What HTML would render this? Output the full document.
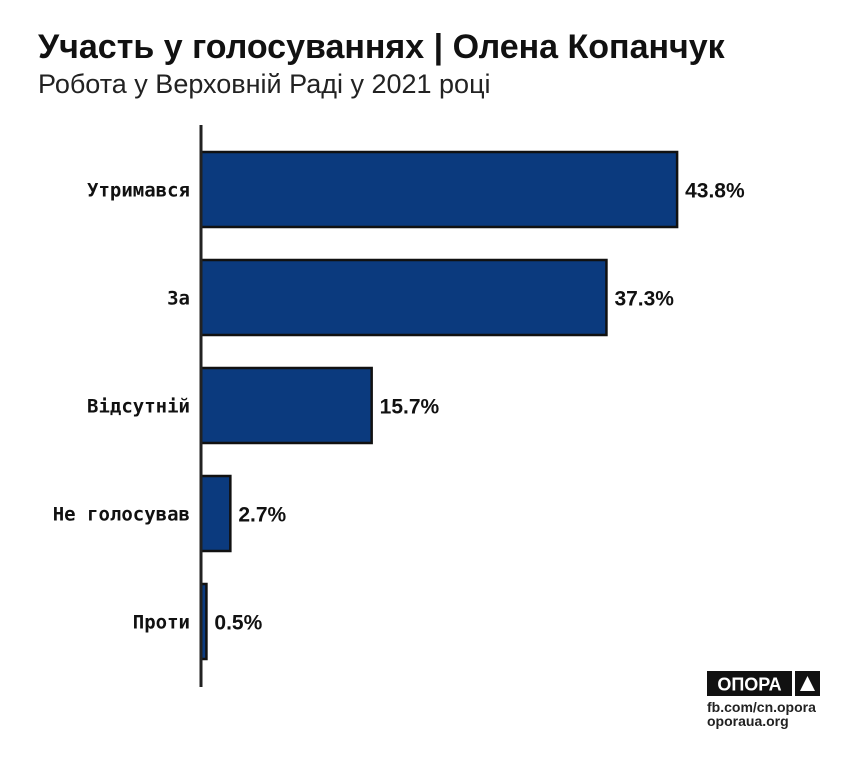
<!DOCTYPE html>
<html><head><meta charset="utf-8"><style>
body{margin:0;background:#fff;width:850px;height:752px;overflow:hidden;font-family:"Liberation Sans","DejaVu Sans",sans-serif}
</style></head><body>
<svg width="850" height="752" xmlns="http://www.w3.org/2000/svg">
<text x="38" y="58" font-size="34" font-weight="bold" fill="#111">Участь у голосуваннях | Олена Копанчук</text>
<text x="38" y="93" font-size="27" fill="#222">Робота у Верховній Раді у 2021 році</text>
<g id="bars"></g>
<line x1="201" y1="125" x2="201" y2="687" stroke="#222" stroke-width="3"/>
<g>
<rect x="707" y="671" width="85" height="25" fill="#111"/>
<text x="749.5" y="690.5" font-size="18" font-weight="bold" fill="#fff" text-anchor="middle">ОПОРА</text>
<rect x="795" y="671" width="25" height="25" fill="#111"/>
<polygon points="807.5,676 815,691 800,691" fill="#fff"/>
<text x="707" y="712" font-size="14" font-weight="bold" fill="#222">fb.com/cn.opora</text>
<text x="707" y="726" font-size="14" font-weight="bold" fill="#222">oporaua.org</text>
</g>
</svg>
<script>
const categories=["Утримався","За","Відсутній","Не голосував","Проти"];
const values=[43.8,37.3,15.7,2.7,0.5];
const valueLabels=["43.8%","37.3%","15.7%","2.7%","0.5%"];
const x0=201,pxPer=10.87,yTop=152,step=108,bh=75;
const xScale=v=>x0+v*pxPer;
const yScale=i=>yTop+i*step;
const g=document.getElementById('bars');
const NS="http://www.w3.org/2000/svg";
categories.forEach((c,i)=>{
 const y=yScale(i),x1=xScale(values[i]);
 const r=document.createElementNS(NS,'rect');
 r.setAttribute('x',x0);r.setAttribute('y',y);r.setAttribute('width',x1-x0);r.setAttribute('height',bh);
 r.setAttribute('fill','#0b3a7e');r.setAttribute('stroke','#111');r.setAttribute('stroke-width','2.5');
 
 
 g.appendChild(r);
 const t=document.createElementNS(NS,'text');
 t.setAttribute('x',190);t.setAttribute('y',y+bh/2+7);t.setAttribute('text-anchor','end');
 t.setAttribute('font-size','19');t.setAttribute('font-weight','bold');t.setAttribute('fill','#111');
 t.setAttribute('font-family','"DejaVu Sans Mono","Liberation Mono",monospace');
 t.textContent=c;
 
 
 g.appendChild(t);
 const v=document.createElementNS(NS,'text');
 v.setAttribute('x',x1+8);v.setAttribute('y',y+bh/2+8);
 v.setAttribute('font-size','21');v.setAttribute('font-weight','bold');v.setAttribute('fill','#111');
 v.textContent=valueLabels[i];
 
 
 g.appendChild(v);
});
</script>
</body></html>
